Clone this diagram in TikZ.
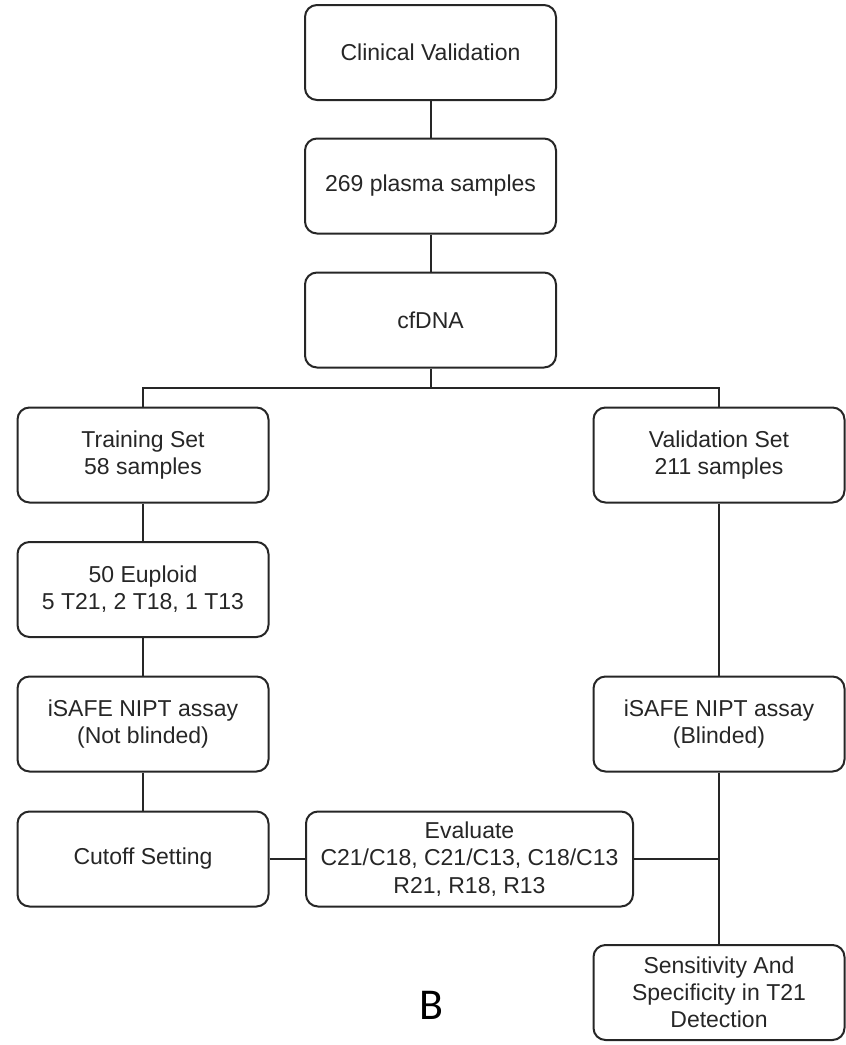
\documentclass[tikz,border=0pt]{standalone}
\usepackage{fontspec}
\setmainfont{Liberation Sans}
\newfontfamily\panelfont{Carlito}
\usepackage{xcolor}
\usepackage{tikz}
\usetikzlibrary{positioning,calc}
\tikzset{
  stage/.style={draw=black!85, line width=1pt, rounded corners=6pt, align=center, text=black!85,
    minimum width=125.5pt, minimum height=47.5pt, inner sep=2pt,
    font=\fontsize{11.5}{13.6}\selectfont},
  widestage/.style={stage, minimum width=163.5pt},
  link/.style={draw=black!85, line width=1pt},
}

\begin{document}
\begin{tikzpicture}[x=0.5pt,y=-0.5pt]
  \useasboundingbox (0,0) rectangle (846,1045);
  % main column
  \node[stage] (clin)   at (430.5,52.5) {Clinical Validation};
  \node[stage] (plasma) at (430.5,186)  {269 plasma samples};
  \node[stage] (cfdna)  at (430.5,320)  {cfDNA};
  % training branch
  \node[stage] (train)   at (143,455)   {Training Set\\58 samples};
  \node[stage] (euploid) at (143,589.5) {50 Euploid\\5 T21, 2 T18, 1 T13};
  \node[stage] (assaya)  at (143,724)   {iSAFE NIPT assay\\(Not blinded)};
  \node[stage] (cutoff)  at (143,859)   {Cutoff Setting};
  % validation branch
  \node[stage] (valid)  at (719,455) {Validation Set\\211 samples};
  \node[stage] (assayb) at (719,724) {iSAFE NIPT assay\\(Blinded)};
  \node[stage] (sens)   at (719,992.5) {Sensitivity And\\Specificity in T21\\Detection};
  \node[widestage] (eval) at (469.5,859) {Evaluate\\C21/C18, C21/C13, C18/C13\\R21, R18, R13};
  \coordinate (bus)  at (430.5,388);
  \coordinate (join) at (719,859);
  \draw[link] (clin) -- (plasma);
  \draw[link] (plasma) -- (cfdna);
  \draw[link] (cfdna) -- (bus);
  \draw[link] (train.north) |- (bus) -| (valid.north);
  \draw[link] (train) -- (euploid);
  \draw[link] (euploid) -- (assaya);
  \draw[link] (assaya) -- (cutoff);
  \draw[link] (cutoff) -- (eval);
  \draw[link] (valid) -- (assayb);
  \draw[link] (assayb) -- (join) -- (sens);
  \draw[link] (eval) -- (join);
  \node[font=\panelfont\fontsize{22}{24}\selectfont] (panel) at (431,1005) {B};
\end{tikzpicture}
\end{document}
